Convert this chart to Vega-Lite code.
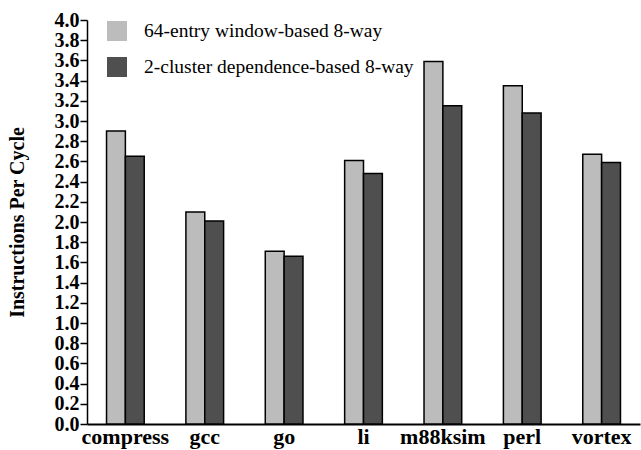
{
  "$schema": "https://vega.github.io/schema/vega-lite/v6.json",
  "width": 553,
  "height": 404,
  "autosize": {"type": "none"},
  "padding": {"left": 87, "top": 20, "right": 1, "bottom": 26},
  "background": "white",
  "config": {
    "view": {"stroke": null},
    "font": "Liberation Serif, Times New Roman, serif"
  },
  "data": {
    "values": [
      {"benchmark": "compress", "config": "64-entry window-based 8-way", "ipc": 2.90},
      {"benchmark": "compress", "config": "2-cluster dependence-based 8-way", "ipc": 2.65},
      {"benchmark": "gcc", "config": "64-entry window-based 8-way", "ipc": 2.10},
      {"benchmark": "gcc", "config": "2-cluster dependence-based 8-way", "ipc": 2.01},
      {"benchmark": "go", "config": "64-entry window-based 8-way", "ipc": 1.71},
      {"benchmark": "go", "config": "2-cluster dependence-based 8-way", "ipc": 1.66},
      {"benchmark": "li", "config": "64-entry window-based 8-way", "ipc": 2.61},
      {"benchmark": "li", "config": "2-cluster dependence-based 8-way", "ipc": 2.48},
      {"benchmark": "m88ksim", "config": "64-entry window-based 8-way", "ipc": 3.59},
      {"benchmark": "m88ksim", "config": "2-cluster dependence-based 8-way", "ipc": 3.15},
      {"benchmark": "perl", "config": "64-entry window-based 8-way", "ipc": 3.35},
      {"benchmark": "perl", "config": "2-cluster dependence-based 8-way", "ipc": 3.08},
      {"benchmark": "vortex", "config": "64-entry window-based 8-way", "ipc": 2.67},
      {"benchmark": "vortex", "config": "2-cluster dependence-based 8-way", "ipc": 2.59}
    ]
  },
  "mark": {"type": "bar", "stroke": "black", "strokeWidth": 1.5},
  "encoding": {
    "x": {
      "field": "benchmark",
      "type": "nominal",
      "sort": null,
      "scale": {"paddingInner": 0.525, "paddingOuter": 0.246},
      "axis": {
        "title": null,
        "labelAngle": 0,
        "labelFont": "Liberation Serif, Times New Roman, serif",
        "labelFontWeight": "bold",
        "labelFontSize": 22,
        "labelColor": "black",
        "ticks": false,
        "labelPadding": 2,
        "domainColor": "black",
        "domainWidth": 2
      }
    },
    "xOffset": {
      "field": "config",
      "type": "nominal",
      "sort": ["64-entry window-based 8-way", "2-cluster dependence-based 8-way"]
    },
    "y": {
      "field": "ipc",
      "type": "quantitative",
      "scale": {"domain": [0, 4], "nice": false},
      "axis": {
        "title": "Instructions Per Cycle",
        "titleFont": "Liberation Serif, Times New Roman, serif",
        "titleFontWeight": "bold",
        "titleFontSize": 20,
        "titleColor": "black",
        "titleX": -70,
        "titleY": 202,
        "titleAngle": -90,
        "titleAlign": "center",
        "titleBaseline": "middle",
        "values": [0, 0.2, 0.4, 0.6, 0.8, 1.0, 1.2, 1.4, 1.6, 1.8, 2.0, 2.2, 2.4, 2.6, 2.8, 3.0, 3.2, 3.4, 3.6, 3.8, 4.0],
        "format": ".1f",
        "labelFont": "Liberation Serif, Times New Roman, serif",
        "labelFontWeight": "bold",
        "labelFontSize": 20,
        "labelColor": "black",
        "labelPadding": 1,
        "tickSize": 7,
        "tickColor": "black",
        "tickWidth": 1.5,
        "domainColor": "black",
        "domainWidth": 1.5,
        "grid": false
      }
    },
    "fill": {
      "field": "config",
      "type": "nominal",
      "sort": ["64-entry window-based 8-way", "2-cluster dependence-based 8-way"],
      "scale": {
        "domain": ["64-entry window-based 8-way", "2-cluster dependence-based 8-way"],
        "range": ["#bcbcbc", "#4f4f4f"]
      },
      "legend": {
        "title": null,
        "orient": "none",
        "legendX": 20,
        "legendY": 1,
        "padding": 0,
        "symbolType": "square",
        "symbolSize": 400,
        "symbolStrokeWidth": 0,
        "labelFont": "Liberation Serif, Times New Roman, serif",
        "labelFontSize": 19.5,
        "labelColor": "black",
        "labelLimit": 500,
        "labelOffset": 17,
        "rowPadding": 16
      }
    }
  }
}
